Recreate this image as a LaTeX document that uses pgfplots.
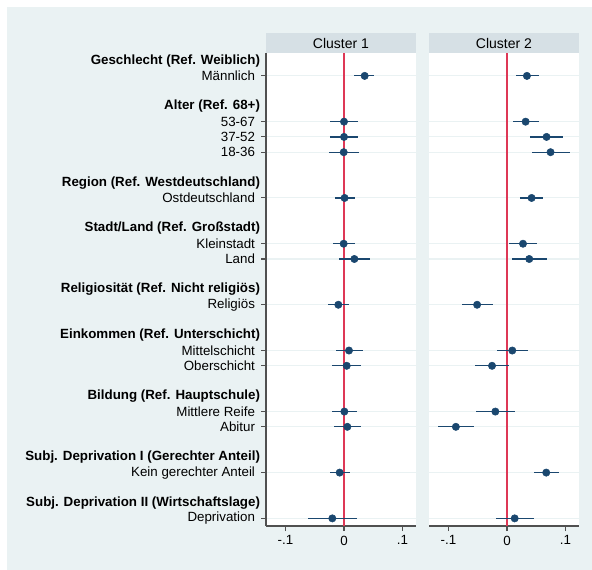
\documentclass[border=0pt]{standalone}
\usepackage{fontspec}
\setmainfont{Liberation Sans}
\usepackage{pgfplots}
\pgfplotsset{compat=1.18}
\usepackage{pgfplotstable}
\definecolor{bgc}{RGB}{234,242,243}
\definecolor{stripc}{RGB}{214,224,229}
\definecolor{gridc}{RGB}{234,242,243}
\definecolor{navyc}{RGB}{26,71,111}
\definecolor{redc}{RGB}{222,56,86}
\definecolor{axisc}{RGB}{80,80,80}

\pgfplotstableread{
row b lo hi
1 0.0353 0.0176 0.0518
4 0.0000 -0.0240 0.0240
5 0.0000 -0.0234 0.0244
6 -0.0005 -0.0256 0.0256
9 0.0010 -0.0154 0.0183
12 -0.0006 -0.0188 0.0183
13 0.0177 -0.0085 0.0439
16 -0.0097 -0.0268 0.0085
19 0.0085 -0.0131 0.0320
20 0.0046 -0.0200 0.0285
23 0.0006 -0.0205 0.0217
24 0.0057 -0.0177 0.0285
27 -0.0074 -0.0239 0.0103
30 -0.0200 -0.0610 0.0222
}\clusterone

\pgfplotstableread{
row b lo hi
1 0.0340 0.0148 0.0540
4 0.0318 0.0102 0.0540
5 0.0676 0.0397 0.0960
6 0.0744 0.0426 0.1073
9 0.0420 0.0227 0.0613
12 0.0273 0.0034 0.0511
13 0.0380 0.0085 0.0676
16 -0.0511 -0.0772 -0.0244
19 0.0090 -0.0165 0.0352
20 -0.0256 -0.0545 0.0040
23 -0.0199 -0.0523 0.0131
24 -0.0874 -0.1187 -0.0567
27 0.0670 0.0460 0.0880
30 0.0131 -0.0182 0.0455
}\clustertwo

\pgfplotsset{coefpanel/.style={
  scale only axis, width=112.5pt, height=354.75pt,
  anchor=north west,
  xmin=-0.1333, xmax=0.123, ymin=-0.5, ymax=30.5, y dir=reverse,
  axis x line*=bottom, axis y line*=left,
  axis background/.style={fill=white},
  axis line style={color=axisc, line width=0.8pt},
  tick align=outside, major tick length=3.75pt,
  tick style={color=axisc, line width=0.8pt},
  xtick={-0.1,0,0.1}, xticklabels={-.1,0,.1},
  ytick={1,4,5,6,9,12,13,16,19,20,23,24,27,30},
  ymajorgrids, grid style={color=gridc, line width=0.8pt},
  tick label style={font=\fontsize{10}{12}\selectfont},
  /pgf/number format/assume math mode=true,
}}

\newcommand{\coefplots}[1]{%
  \addplot[redc, line width=1.1pt] coordinates {(0,-0.5) (0,30.5)};
  \addplot[draw=none, mark=none, error bars/.cd, x dir=both, x explicit,
    error mark=none, error bar style={line width=0.9pt, draw=navyc}]
    table[x=b, y=row, x error plus expr=\thisrow{hi}-\thisrow{b},
          x error minus expr=\thisrow{b}-\thisrow{lo}] {#1};
  \addplot[only marks, mark=*, mark size=2.75pt, color=navyc, fill=navyc] table[x=b, y=row] {#1};
}

\begin{document}
\begin{tikzpicture}
\useasboundingbox (0,0) rectangle (444pt,-427.5pt);
\fill[bgc] (5.25pt,-5.25pt) rectangle (444pt,-427.5pt);
\fill[stripc] (199.5pt,-24.75pt) rectangle (312pt,-39.75pt);
\node[font=\fontsize{10.5}{12}\selectfont] at (255.75pt,-32.25pt) {Cluster 1};
\fill[stripc] (321.75pt,-24.75pt) rectangle (434.25pt,-39.75pt);
\node[font=\fontsize{10.5}{12}\selectfont] at (378pt,-32.25pt) {Cluster 2};

\begin{axis}[coefpanel, at={(199.5pt,-39.75pt)},
  ytick style={draw=axisc, line width=0.8pt},
  yticklabels={Männlich,53-67,37-52,18-36,Ostdeutschland,Kleinstadt,Land,Religiös,Mittelschicht,Oberschicht,Mittlere Reife,Abitur,Kein gerechter Anteil,Deprivation},
  yticklabel style={xshift=-1pt},
  extra y ticks={0,3,8,11,15,18,22,26,29},
  extra y tick labels={Geschlecht (Ref. Weiblich),Alter (Ref. 68+),Region (Ref. Westdeutschland),Stadt/Land (Ref. Großstadt),Religiosität (Ref. Nicht religiös),Einkommen (Ref. Unterschicht),Bildung (Ref. Hauptschule),Subj. Deprivation I (Gerechter Anteil),Subj. Deprivation II (Wirtschaftslage)},
  extra y tick style={major tick length=0pt, ymajorgrids=false, tick label style={font=\fontsize{10}{12}\selectfont\bfseries}},
]
\coefplots{\clusterone}
\end{axis}

\begin{axis}[coefpanel, at={(321.75pt,-39.75pt)},
  yticklabels={}, y axis line style={draw=none}, ytick style={draw=none},
]
\coefplots{\clustertwo}
\end{axis}
\end{tikzpicture}
\end{document}
